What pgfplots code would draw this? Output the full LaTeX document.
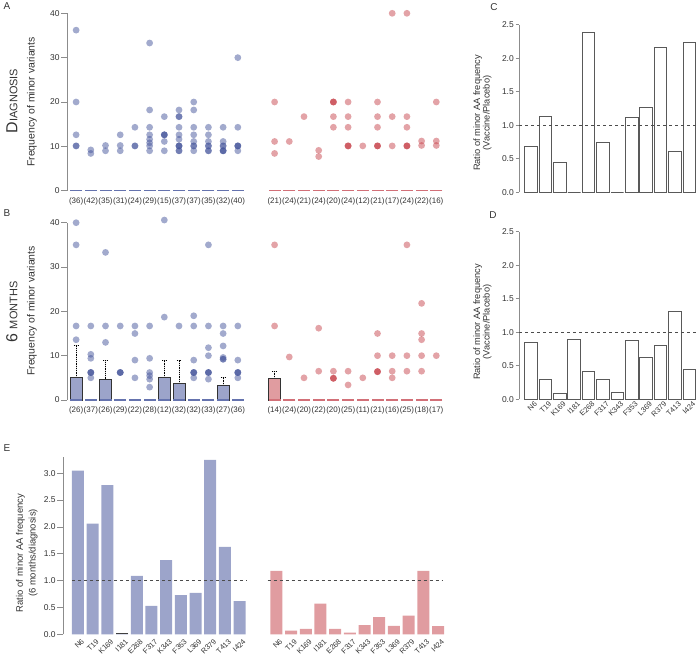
\documentclass[border=0pt]{standalone}
\usepackage{pgfplots}
\pgfplotsset{compat=1.18}
\usepgfplotslibrary{statistics}
\usepackage{fontspec}
\setmainfont{Liberation Sans}

\definecolor{bdot}{HTML}{45559B}
\definecolor{rdot}{HTML}{C84850}
\definecolor{bdash}{HTML}{6573AE}
\definecolor{rdash}{HTML}{D27078}
\definecolor{bbar}{HTML}{9CA4CA}
\definecolor{rbar}{HTML}{E09CA0}
\definecolor{axgray}{HTML}{8C8C8C}
\definecolor{txt}{HTML}{333333}

\pgfplotsset{
  fig/.style={scale only axis, anchor=south west, clip=false,
    axis y line*=left, axis x line*=bottom,
    x axis line style={draw=none},
    y axis line style={axgray, line width=0.8bp},
    ytick style={axgray, line width=0.8bp},
    xtick style={draw=none},
    tick align=outside, major tick length=6bp,
    ticklabel style={font=\fontsize{8.5}{9}\selectfont, text=txt},
    yticklabel style={inner sep=1.5bp},
    /pgf/number format/assume math mode=true,
  },
  dots/.style={only marks, mark=*, mark size=3.4bp, color=#1,
    mark options={draw opacity=0, fill=#1, fill opacity=0.5}},
  zdash/.style={only marks, mark=-, mark size=6bp,
    mark options={line width=1.4bp, draw=#1}},
  ratio/.style={fig, major tick length=3.5bp,
    ymin=0, ymax=2.5, ytick={0,0.5,...,2.5},
    yticklabel style={/pgf/number format/.cd, fixed, fixed zerofill, precision=1},
    xmin=-0.83, xmax=11.6, width=179bp, height=167.5bp},
  rot/.style={xtick={0,...,11},
    xticklabels={N6,T19,K169,I181,E268,F317,K343,F353,L369,R379,T413,I424},
    xticklabel style={rotate=45, anchor=north east, inner sep=0.5bp,
      xshift=4bp, font=\fontsize{7.5}{8}\selectfont}},
  wbar/.style={ybar, bar shift=0pt, bar width=12.7bp, fill=white,
    draw=black!65, line width=0.9bp},
  dline/.style={black!70, dash pattern=on 3bp off 3bp, line width=0.9bp},
  box/.style={fill=#1, draw=black!80, line width=0.8bp,
    boxplot/draw direction=y,
    boxplot/every whisker/.style={densely dotted, black, line width=0.8bp},
    boxplot/every median/.style={line width=2bp, black}},
}

\begin{document}
\begin{tikzpicture}
\useasboundingbox (0,0) rectangle (700bp,659bp);

% ---------- A: diagnosis ----------
\begin{axis}[fig, at={(67.3bp,468.3bp)}, width=379.3bp, height=177.4bp,
  xmin=-0.6, xmax=25.2, ymin=0, ymax=40, ytick={0,10,...,40},
  xtick={0,1,...,11,13.5,14.5,...,24.5},
  xticklabels={(36),(42),(35),(31),(24),(29),(15),(37),(37),(35),(32),(40),
    (21),(24),(21),(24),(20),(24),(12),(21),(17),(24),(22),(16)},
  xticklabel style={font=\fontsize{8}{9}\selectfont, inner sep=1bp}]
\addplot[zdash=bdash] coordinates {(0,0)(1,0)(2,0)(3,0)(4,0)(5,0)(6,0)(7,0)(8,0)(9,0)(10,0)(11,0)};
\addplot[zdash=rdash] coordinates {(13.5,0)(14.5,0)(15.5,0)(16.5,0)(17.5,0)(18.5,0)(19.5,0)(20.5,0)(21.5,0)(22.5,0)(23.5,0)(24.5,0)};
\addplot[dots=bdot] coordinates {
  (0,36.2)(0,20.0)(0,12.6)(0,10.1)(0,10.1)
  (1,9.2)(1,8.4)
  (2,10.2)(2,9.0)
  (3,12.6)(3,10.2)(3,9.0)
  (4,14.3)(4,10.1)(4,10.1)
  (5,33.3)(5,18.2)(5,14.3)(5,12.6)(5,11.6)(5,10.8)(5,10.1)(5,9.0)
  (6,16.7)(6,12.6)(6,12.6)(6,12.6)(6,11.1)(6,9.0)
  (7,18.2)(7,16.7)(7,16.7)(7,14.3)(7,12.6)(7,11.6)(7,10.1)(7,10.1)(7,10.1)(7,9.0)(7,9.0)
  (8,20.0)(8,18.2)(8,14.3)(8,12.6)(8,11.1)(8,10.1)(8,10.1)(8,9.0)
  (9,14.3)(9,12.6)(9,11.1)(9,10.1)(9,10.1)(9,9.0)(9,9.0)
  (10,14.3)(10,11.1)(10,10.1)(10,10.1)(10,9.0)(10,9.0)(10,9.0)
  (11,30.0)(11,14.3)(11,10.1)(11,10.1)(11,10.1)(11,9.0)};
\addplot[dots=rdot] coordinates {
  (13.5,20.0)(13.5,11.1)(13.5,8.4)
  (14.5,11.1)
  (15.5,16.7)
  (16.5,9.1)(16.5,7.7)
  (17.5,20)(17.5,20)(17.5,20)(17.5,16.7)(17.5,14.3)
  (18.5,20)(18.5,16.7)(18.5,14.3)(18.5,10.1)(18.5,10.1)(18.5,10.1)
  (19.5,10.1)
  (20.5,20)(20.5,16.7)(20.5,14.3)(20.5,10.1)(20.5,10.1)(20.5,10.1)
  (21.5,40)(21.5,16.7)(21.5,10.1)
  (22.5,40)(22.5,16.7)(22.5,14.3)(22.5,10.1)(22.5,10.1)(22.5,10.1)
  (23.5,11.2)(23.5,10.2)
  (24.5,20)(24.5,11.2)(24.5,10.2)};
\end{axis}

% ---------- B: 6 months ----------
\begin{axis}[fig, at={(67.3bp,259bp)}, width=379.3bp, height=177.3bp,
  xmin=-0.6, xmax=25.2, ymin=0, ymax=40, ytick={0,10,...,40},
  xtick={0,1,...,11,13.5,14.5,...,24.5},
  xticklabels={(26),(37),(26),(29),(22),(28),(12),(32),(32),(33),(27),(36),
    (14),(24),(20),(22),(20),(25),(11),(21),(16),(25),(18),(17)},
  xticklabel style={font=\fontsize{8}{9}\selectfont, inner sep=1bp}]
\addplot[zdash=bdash] coordinates {(0,0)(1,0)(2,0)(3,0)(4,0)(5,0)(6,0)(7,0)(8,0)(9,0)(10,0)(11,0)};
\addplot[zdash=rdash] coordinates {(13.5,0)(14.5,0)(15.5,0)(16.5,0)(17.5,0)(18.5,0)(19.5,0)(20.5,0)(21.5,0)(22.5,0)(23.5,0)(24.5,0)};
\addplot[box=bbar, boxplot prepared={draw position=0, lower whisker=0, lower quartile=0,
  median=0, upper quartile=5.0, upper whisker=12.4, box extend=0.8, whisker extend=0.3}] coordinates {};
\addplot[box=bbar, boxplot prepared={draw position=2, lower whisker=0, lower quartile=0,
  median=0, upper quartile=4.7, upper whisker=9.0, box extend=0.8, whisker extend=0.3}] coordinates {};
\addplot[box=bbar, boxplot prepared={draw position=6, lower whisker=0, lower quartile=0,
  median=0, upper quartile=5.0, upper whisker=9.0, box extend=0.8, whisker extend=0.3}] coordinates {};
\addplot[box=bbar, boxplot prepared={draw position=7, lower whisker=0, lower quartile=0,
  median=0, upper quartile=3.7, upper whisker=9.0, box extend=0.8, whisker extend=0.3}] coordinates {};
\addplot[box=bbar, boxplot prepared={draw position=10, lower whisker=0, lower quartile=0,
  median=0, upper quartile=3.2, upper whisker=5.0, box extend=0.8, whisker extend=0.3}] coordinates {};
\addplot[box=rbar, boxplot prepared={draw position=13.5, lower whisker=0, lower quartile=0,
  median=0, upper quartile=4.8, upper whisker=6.5, box extend=0.8, whisker extend=0.3}] coordinates {};
\addplot[dots=bdot] coordinates {
  (0,40)(0,35)(0,16.7)(0,13.6)
  (1,16.7)(1,10.3)(1,9.4)(1,6.2)(1,6.2)(1,6.2)(1,5.0)
  (2,33.3)(2,16.7)(2,13.0)
  (3,16.7)(3,6.2)(3,6.2)(3,6.2)
  (4,16.7)(4,15.0)(4,9.0)(4,5.0)
  (5,16.7)(5,9.4)(5,6.2)(5,5.5)(5,4.7)(5,2.9)
  (6,40.6)(6,18.7)
  (7,16.7)
  (8,19.0)(8,16.7)(8,9.0)(8,6.2)(8,6.2)(8,6.2)(8,5.0)
  (9,35)(9,16.7)(9,11.8)(9,10.0)(9,6.2)(9,6.2)(9,6.2)(9,4.7)
  (10,16.7)(10,15.0)(10,12.2)(10,9.6)(10,9.2)(10,9.2)
  (11,16.7)(11,9.0)(11,6.2)(11,6.2)(11,6.2)(11,5.0)};
\addplot[dots=rdot] coordinates {
  (13.5,35)(13.5,16.7)
  (14.5,9.7)
  (15.5,5.0)
  (16.5,16.2)(16.5,6.5)
  (17.5,6.5)(17.5,4.9)(17.5,4.9)(17.5,4.9)
  (18.5,6.5)(18.5,3.4)
  (19.5,5.0)
  (20.5,15.0)(20.5,10.0)(20.5,6.4)(20.5,6.4)(20.5,6.4)
  (21.5,10.0)(21.5,6.5)(21.5,5.0)
  (22.5,35)(22.5,10.0)(22.5,6.5)
  (23.5,21.8)(23.5,15.0)(23.5,13.6)(23.5,10.0)(23.5,6.5)
  (24.5,10.0)};
\end{axis}

% ---------- C: vaccine/placebo at diagnosis ----------
\begin{axis}[ratio, at={(519bp,466.7bp)}, xtick=\empty]
\addplot[wbar] coordinates {(0,0.69)(1,1.13)(2,0.45)(3,0)(4,2.38)(5,0.74)
  (6,0)(7,1.12)(8,1.27)(9,2.16)(10,0.61)(11,2.23)};
\addplot[dline] coordinates {(-0.83,1)(11.6,1)};
\end{axis}

% ---------- D: vaccine/placebo at 6 months ----------
\begin{axis}[ratio, rot, at={(519bp,259.7bp)}]
\addplot[wbar] coordinates {(0,0.85)(1,0.30)(2,0.09)(3,0.90)(4,0.41)(5,0.29)
  (6,0.10)(7,0.88)(8,0.63)(9,0.80)(10,1.31)(11,0.45)};
\addplot[dline] coordinates {(-0.83,1)(11.6,1)};
\end{axis}

% ---------- E: 6 months/diagnosis ----------
\begin{axis}[fig, at={(63.3bp,24.7bp)}, width=385bp, height=177.2bp,
  xmin=-1.0, xmax=25.2, ymin=0, ymax=3.3, ytick={0,0.5,...,3.0},
  yticklabel style={/pgf/number format/.cd, fixed, fixed zerofill, precision=1},
  xtick={0,1,...,11,13.5,14.5,...,24.5},
  xticklabels={N6,T19,K169,I181,E268,F317,K343,F353,L369,R379,T413,I424,
    N6,T19,K169,I181,E268,F317,K343,F353,L369,R379,T413,I424},
  xticklabel style={rotate=45, anchor=north east, inner sep=0.5bp,
    xshift=4bp, font=\fontsize{7.5}{8}\selectfont}]
\addplot[ybar, bar shift=0pt, bar width=12bp, fill=bbar, draw=none] coordinates {
  (0,3.05)(1,2.06)(2,2.78)(3,0.01)(4,1.09)(5,0.53)(6,1.38)(7,0.73)(8,0.77)
  (9,3.25)(10,1.63)(11,0.62)};
\addplot[only marks, mark=-, mark size=6bp, mark options={line width=1.2bp, draw=black!75}]
  coordinates {(3,0.01)};
\addplot[ybar, bar shift=0pt, bar width=12bp, fill=rbar, draw=none] coordinates {
  (13.5,1.18)(14.5,0.07)(15.5,0.10)(16.5,0.57)(17.5,0.10)(18.5,0.03)(19.5,0.17)
  (20.5,0.32)(21.5,0.155)(22.5,0.35)(23.5,1.18)(24.5,0.15)};
\addplot[dline] coordinates {(-0.4,1)(11.5,1)};
\addplot[dline] coordinates {(12.9,1)(24.85,1)};
\end{axis}

% ---------- labels ----------
\begin{scope}[every node/.style={text=txt}]
\node[font=\fontsize{10}{12}\selectfont] at (7bp,653bp) {A};
\node[font=\fontsize{10}{12}\selectfont] at (7bp,446bp) {B};
\node[font=\fontsize{10}{12}\selectfont] at (7bp,211bp) {E};
\node[font=\fontsize{10}{12}\selectfont] at (494bp,652bp) {C};
\node[font=\fontsize{10}{12}\selectfont] at (493bp,444bp) {D};
\node[rotate=90] at (12bp,558bp) {\fontsize{16}{18}\selectfont D\fontsize{11}{12}\selectfont IAGNOSIS};
\node[rotate=90] at (12bp,347bp) {\fontsize{16}{18}\selectfont 6 \fontsize{11}{12}\selectfont MONTHS};
\node[rotate=90, font=\fontsize{10.5}{12}\selectfont] at (32bp,557bp) {Frequency of minor variants};
\node[rotate=90, font=\fontsize{10.5}{12}\selectfont] at (32bp,348bp) {Frequency of minor variants};
\node[rotate=90, align=center, font=\fontsize{9.3}{9.5}\selectfont] at (482.5bp,546bp)
  {Ratio of minor AA frequency\\(Vaccine/Placebo)};
\node[rotate=90, align=center, font=\fontsize{9.3}{9.5}\selectfont] at (482.5bp,337bp)
  {Ratio of minor AA frequency\\(Vaccine/Placebo)};
\node[rotate=90, align=center, font=\fontsize{9.5}{13}\selectfont] at (26.8bp,106bp)
  {Ratio of minor AA frequency\\(6 months/diagnosis)};
\end{scope}
\end{tikzpicture}
\end{document}
